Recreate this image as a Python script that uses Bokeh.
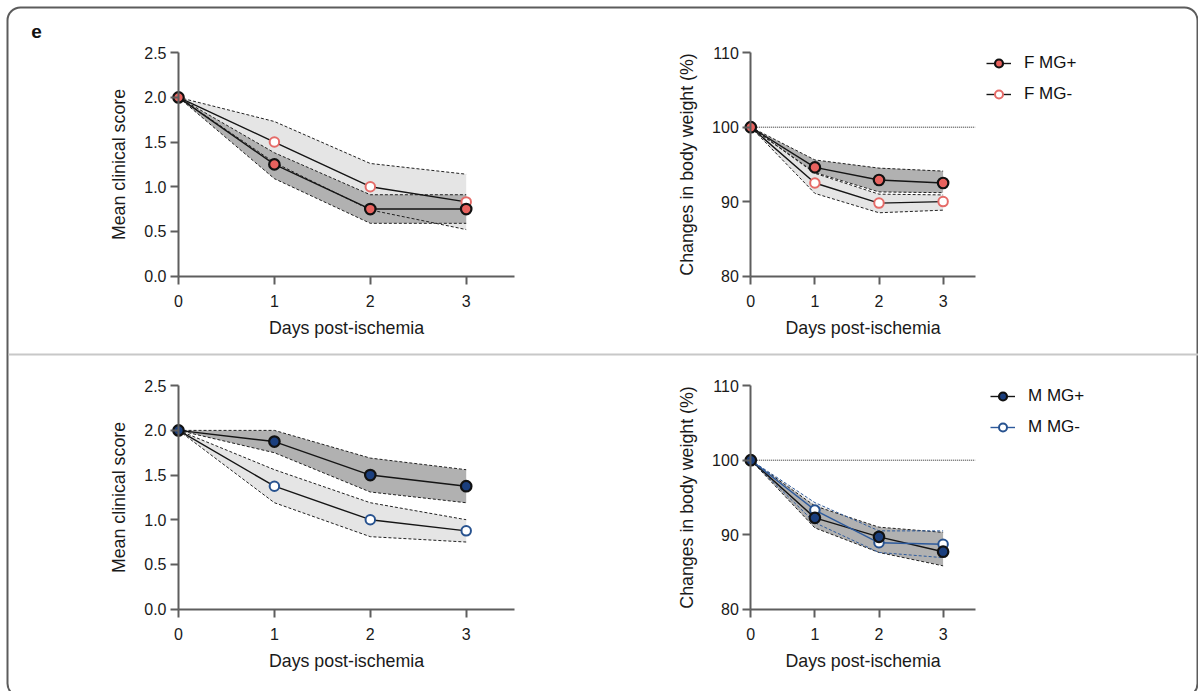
from bokeh.plotting import figure
from bokeh.models import (Range1d, LinearAxis, FixedTicker, PrintfTickFormatter,
                          Legend, LegendItem, Label)
from bokeh.embed import file_html
from bokeh.resources import INLINE

# ---------------- data ----------------
days = [0, 1, 2, 3]
day_ticks = [0, 1, 2, 3]
score_ticks = [0.0, 0.5, 1.0, 1.5, 2.0, 2.5]
weight_ticks = [80, 90, 100, 110]
weight_baseline = 100

# Female: mean clinical score (mean with error band)
f_score_pos = [2.0, 1.25, 0.75, 0.75]
f_score_pos_hi = [2.0, 1.38, 0.91, 0.91]
f_score_pos_lo = [2.0, 1.09, 0.59, 0.59]
f_score_neg = [2.0, 1.5, 1.0, 0.83]
f_score_neg_hi = [2.0, 1.73, 1.26, 1.14]
f_score_neg_lo = [2.0, 1.27, 0.74, 0.52]

# Female: body weight change (%)
f_wt_pos = [100, 94.6, 92.9, 92.5]
f_wt_pos_hi = [100, 95.6, 94.5, 94.1]
f_wt_pos_lo = [100, 93.9, 91.3, 91.2]
f_wt_neg = [100, 92.5, 89.8, 90.0]
f_wt_neg_hi = [100, 93.8, 91.0, 90.9]
f_wt_neg_lo = [100, 91.1, 88.5, 88.85]

# Male: mean clinical score
m_score_pos = [2.0, 1.875, 1.5, 1.375]
m_score_pos_hi = [2.0, 2.0, 1.69, 1.56]
m_score_pos_lo = [2.0, 1.75, 1.31, 1.19]
m_score_neg = [2.0, 1.375, 1.0, 0.875]
m_score_neg_hi = [2.0, 1.56, 1.19, 1.0]
m_score_neg_lo = [2.0, 1.19, 0.81, 0.75]

# Male: body weight change (%)
m_wt_pos = [100, 92.25, 89.7, 87.7]
m_wt_pos_hi = [100, 93.85, 91.0, 90.3]
m_wt_pos_lo = [100, 90.9, 87.6, 85.8]
m_wt_neg = [100, 93.3, 88.9, 88.7]
m_wt_neg_hi = [100, 94.3, 90.5, 90.5]
m_wt_neg_lo = [100, 91.6, 87.6, 86.9]

# ---------------- canvas ----------------
W, H = 1198, 691
FONT = "Liberation Sans"
X_MAX = 3.5

p = figure(width=W, height=H, output_backend="svg", toolbar_location=None,
           x_axis_type=None, y_axis_type=None, title=None,
           x_range=Range1d(0, W), y_range=Range1d(H, 0), min_border=0)
p.outline_line_color = None
p.background_fill_color = "white"
p.border_fill_color = "white"

# panel geometry: pixel of the data origin and pixels per unit
panels = {
    "tl": dict(px0=178.0, sx=95.9, vref=0.0, pyref=275.5, sy=89.3),
    "tr": dict(px0=750.3, sx=64.1, vref=80.0, pyref=275.5, sy=7.44),
    "bl": dict(px0=178.0, sx=95.9, vref=0.0, pyref=608.5, sy=89.3),
    "br": dict(px0=750.3, sx=64.1, vref=80.0, pyref=608.5, sy=7.44),
}
for name, g in panels.items():
    p.extra_x_ranges[name + "_x"] = Range1d(start=-g["px0"] / g["sx"],
                                            end=(W - g["px0"]) / g["sx"])
    p.extra_y_ranges[name + "_y"] = Range1d(start=g["vref"] + (g["pyref"] - H) / g["sy"],
                                            end=g["vref"] + g["pyref"] / g["sy"])

# outer rounded frame and divider
p.quad(left=7, right=1197, top=7, bottom=696, fill_color=None,
       line_color="#5c5c5c", line_width=2, border_radius=13)
p.segment(x0=8, y0=354, x1=1198, y1=354, line_color="#c8c8c8", line_width=2)
p.add_layout(Label(x=36, y=31, text="e", text_font=FONT, text_font_style="bold",
                   text_font_size="19px", text_align="center", text_baseline="middle",
                   text_color="#111111"))

AXIS_COLOR = "#5e5e5e"


def style_axis(ax):
    ax.axis_line_color = AXIS_COLOR
    ax.axis_line_width = 2
    ax.major_tick_line_color = AXIS_COLOR
    ax.major_tick_line_width = 2
    ax.major_tick_out = 8
    ax.major_tick_in = 0
    ax.minor_tick_out = 0
    ax.minor_tick_in = 0
    ax.major_label_text_font = FONT
    ax.major_label_text_font_size = "16px"
    ax.major_label_text_color = "#1a1a1a"
    ax.major_label_standoff = 4
    ax.axis_label_text_font = FONT
    ax.axis_label_text_font_size = "17.8px"
    ax.axis_label_text_font_style = "normal"
    ax.axis_label_text_color = "#1a1a1a"


def add_axes(name, y_lo, y_hi, yticks, yfmt, ylabel):
    xr, yr = name + "_x", name + "_y"
    yax = LinearAxis(x_range_name=xr, y_range_name=yr, fixed_location=0,
                     bounds=(y_lo, y_hi), ticker=FixedTicker(ticks=yticks),
                     formatter=PrintfTickFormatter(format=yfmt), axis_label=ylabel)
    style_axis(yax)
    yax.axis_label_standoff = 12
    p.add_layout(yax, "left")
    xax = LinearAxis(x_range_name=xr, y_range_name=yr, fixed_location=y_lo,
                     bounds=(0, X_MAX), ticker=FixedTicker(ticks=day_ticks),
                     axis_label="Days post-ischemia")
    style_axis(xax)
    xax.major_label_standoff = 11
    xax.axis_label_standoff = 7
    p.add_layout(xax, "below")


LIGHT = "#e5e5e5"
DARK = "#b1b1b1"
EDGE = "#222222"
MEAN = "#151515"


def band(name, lo, hi, fill, alpha=1.0):
    kw = dict(x_range_name=name + "_x", y_range_name=name + "_y")
    p.varea(x=days, y1=lo, y2=hi, fill_color=fill, fill_alpha=alpha, **kw)


def band_edges(name, lo, hi, edge_color):
    kw = dict(x_range_name=name + "_x", y_range_name=name + "_y")
    p.line(days, hi, line_color=edge_color, line_width=1, line_dash="3 2", **kw)
    p.line(days, lo, line_color=edge_color, line_width=1, line_dash="3 2", **kw)


def mean_line(name, y, color):
    return p.line(days, y, line_color=color, line_width=1.4,
                  x_range_name=name + "_x", y_range_name=name + "_y")


def filled(name, y, color):
    return p.scatter(days, y, marker="circle", size=10.5, fill_color=color,
                     line_color="#111111", line_width=2.2,
                     x_range_name=name + "_x", y_range_name=name + "_y")


def hollow(name, y, color):
    return p.scatter(days, y, marker="circle", size=9.5, fill_color="white",
                     line_color=color, line_width=2,
                     x_range_name=name + "_x", y_range_name=name + "_y")


F_FILL = "#e8625e"
F_OPEN = "#e56b68"
M_FILL = "#1b3f7e"
M_OPEN = "#27528f"
M_LINE = "#2d5a9c"

# ---- female clinical score ----
band("tl", f_score_neg_lo, f_score_neg_hi, LIGHT)
band("tl", f_score_pos_lo, f_score_pos_hi, DARK)
band_edges("tl", f_score_neg_lo, f_score_neg_hi, EDGE)
band_edges("tl", f_score_pos_lo, f_score_pos_hi, EDGE)
mean_line("tl", f_score_neg, MEAN)
mean_line("tl", f_score_pos, MEAN)
hollow("tl", f_score_neg, F_OPEN)
filled("tl", f_score_pos, F_FILL)
add_axes("tl", 0, 2.5, score_ticks, "%.1f", "Mean clinical score")

# ---- female body weight ----
p.segment(x0=0, y0=weight_baseline, x1=X_MAX, y1=weight_baseline, line_color="#222222",
          line_width=1, line_dash="1 1", x_range_name="tr_x", y_range_name="tr_y")
band("tr", f_wt_neg_lo, f_wt_neg_hi, LIGHT)
band("tr", f_wt_pos_lo, f_wt_pos_hi, DARK)
band_edges("tr", f_wt_neg_lo, f_wt_neg_hi, EDGE)
band_edges("tr", f_wt_pos_lo, f_wt_pos_hi, EDGE)
fl_neg = mean_line("tr", f_wt_neg, MEAN)
fl_pos = mean_line("tr", f_wt_pos, MEAN)
fs_neg = hollow("tr", f_wt_neg, F_OPEN)
fs_pos = filled("tr", f_wt_pos, F_FILL)
add_axes("tr", 80, 110, weight_ticks, "%d", "Changes in body weight (%)")

# ---- male clinical score ----
band("bl", m_score_neg_lo, m_score_neg_hi, LIGHT)
band("bl", m_score_pos_lo, m_score_pos_hi, DARK)
band_edges("bl", m_score_neg_lo, m_score_neg_hi, EDGE)
band_edges("bl", m_score_pos_lo, m_score_pos_hi, EDGE)
mean_line("bl", m_score_neg, MEAN)
mean_line("bl", m_score_pos, MEAN)
hollow("bl", m_score_neg, M_OPEN)
filled("bl", m_score_pos, M_FILL)
add_axes("bl", 0, 2.5, score_ticks, "%.1f", "Mean clinical score")

# ---- male body weight ----
p.segment(x0=0, y0=weight_baseline, x1=X_MAX, y1=weight_baseline, line_color="#222222",
          line_width=1, line_dash="1 1", x_range_name="br_x", y_range_name="br_y")
band("br", m_wt_neg_lo, m_wt_neg_hi, "#eeeeee")
band("br", m_wt_pos_lo, m_wt_pos_hi, DARK)
band_edges("br", m_wt_pos_lo, m_wt_pos_hi, EDGE)
band_edges("br", m_wt_neg_lo, m_wt_neg_hi, M_LINE)
ml_pos = mean_line("br", m_wt_pos, MEAN)
ml_neg = mean_line("br", m_wt_neg, M_LINE)
ms_neg = hollow("br", m_wt_neg, M_OPEN)
ms_pos = filled("br", m_wt_pos, M_FILL)
add_axes("br", 80, 110, weight_ticks, "%d", "Changes in body weight (%)")


def make_legend(items, loc):
    lg = Legend(items=items, location=loc, orientation="vertical",
                glyph_width=25, glyph_height=20, spacing=11, padding=0, margin=0,
                label_standoff=13, label_text_font=FONT, label_text_font_size="17px",
                label_text_color="#111111", border_line_color=None,
                background_fill_alpha=0)
    p.add_layout(lg, "center")


make_legend([LegendItem(label="F MG+", renderers=[fl_pos, fs_pos]),
             LegendItem(label="F MG-", renderers=[fl_neg, fs_neg])], (986, 587))
make_legend([LegendItem(label="M MG+", renderers=[ml_pos, ms_pos]),
             LegendItem(label="M MG-", renderers=[ml_neg, ms_neg])], (990, 254))

open("out.html", "w").write(file_html(p, INLINE))
